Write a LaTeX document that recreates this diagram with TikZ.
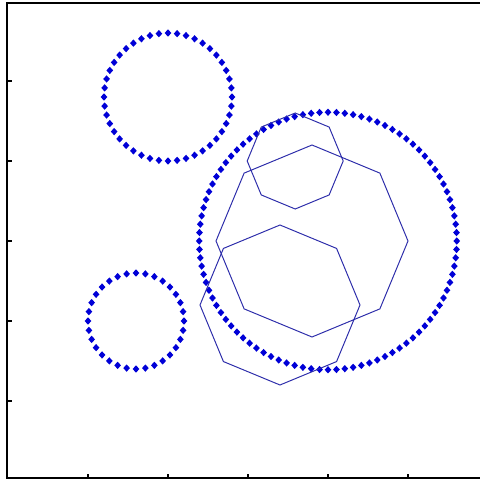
\documentclass[tikz,border=0pt]{standalone}
\usepackage{tikz}
\definecolor{markblue}{RGB}{0,0,215}
\definecolor{lineblue}{RGB}{45,45,170}
\tikzset{
  dotmark/.style={fill=markblue},
  octline/.style={draw=lineblue,line width=.7pt,line join=miter},
}
\begin{document}
\begin{tikzpicture}[x=2cm,y=2cm,line width=.35pt]
\useasboundingbox (-0.1,0) rectangle (5.9,6.0125);
% axes box and ticks
\draw[line width=1.3pt] (5.9,5.97)--(-0.01,5.97)--(-0.01,0.035)--(5.9,0.035);
\foreach \t in {1,...,5} {
  \draw[line width=.9pt] (-0.01,\t)--(0.05,\t);
  \draw[line width=.9pt] (\t,0.035)--(\t,0.09);
}
% circles of markers
\foreach \i in {1,...,44}
  \fill[dotmark,shift={({2+0.8*cos(8.1818*\i)},{4.8+0.8*sin(8.1818*\i)})}]
    (0.042,0)--(0,0.046)--(-0.042,0)--(0,-0.046)--cycle;
\foreach \i in {1,...,32}
  \fill[dotmark,shift={({1.6+0.6*cos(11.25*\i)},{2+0.6*sin(11.25*\i)})}]
    (0.042,0)--(0,0.046)--(-0.042,0)--(0,-0.046)--cycle;
\foreach \i in {1,...,96}
  \fill[dotmark,shift={({4+1.61*cos(3.75*\i)},{3+1.61*sin(3.75*\i)})}]
    (0.042,0)--(0,0.046)--(-0.042,0)--(0,-0.046)--cycle;
% octagons
\draw[octline,shift={(3.59,4.0)}] (0:0.6)--(45:0.6)--(90:0.6)--(135:0.6)--(180:0.6)--(225:0.6)--(270:0.6)--(315:0.6)--cycle;
\draw[octline,shift={(3.8,3.0)}] (0:1.2)--(45:1.2)--(90:1.2)--(135:1.2)--(180:1.2)--(225:1.2)--(270:1.2)--(315:1.2)--cycle;
\draw[octline,shift={(3.4,2.2)}] (0:1.0)--(45:1.0)--(90:1.0)--(135:1.0)--(180:1.0)--(225:1.0)--(270:1.0)--(315:1.0)--cycle;
\end{tikzpicture}
\end{document}
